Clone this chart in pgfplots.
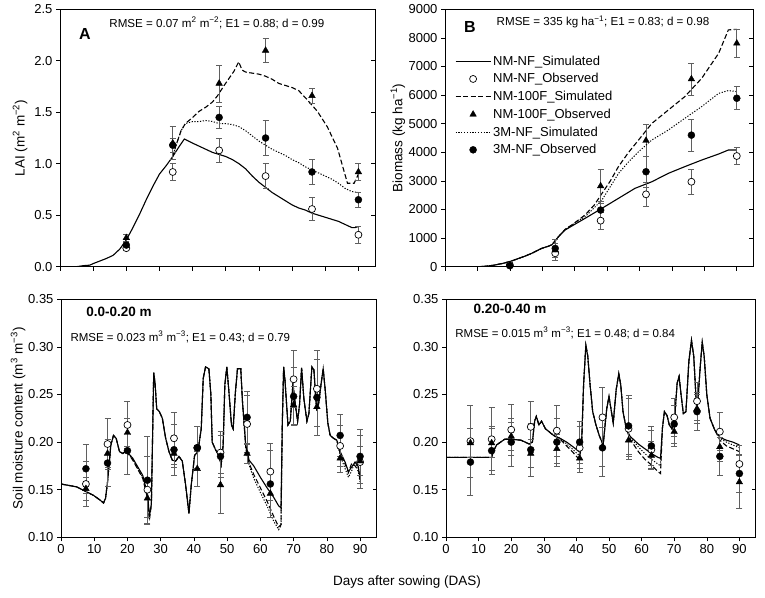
\documentclass[border=0pt]{standalone}
\usepackage{pgfplots}
\usepackage{pgfplotstable}
\pgfplotsset{compat=1.18}
\usepackage{fontspec}
\setmainfont{Liberation Sans}

\definecolor{errgray}{RGB}{95,95,95}

\pgfplotsset{
  panel/.style={scale only axis, anchor=south west, xmin=0, xmax=95,
    xtick={0,10,...,90}, xtick pos=left, ytick pos=left, tick align=outside,
    major tick length=4pt, every tick/.style={black, line width=0.6pt},
    axis line style={line width=0.8pt},
    tick label style={font=\fontsize{13}{15}\selectfont},
    label style={font=\fontsize{13.5}{16}\selectfont},
    /pgf/number format/assume math mode=true},
  rticks/.style={scale only axis, anchor=south west, xmin=0, xmax=95,
    axis x line=none, axis y line*=right, tick align=inside,
    major tick length=4pt, yticklabels={},
    every tick/.style={black, line width=0.6pt},
    axis line style={line width=0.8pt, -}},
  sims/.style={black, line width=1.1pt, no markers},
  dsh/.style={sims, dash pattern=on 5pt off 2.5pt},
  dtt/.style={sims, line width=1pt, dash pattern=on 1.2pt off 1.6pt},
  obs/.style={only marks, error bars/y dir=both, error bars/y explicit,
    error bars/error mark=|,
    error bars/error bar style={errgray, line width=0.75pt},
    error bars/error mark options={errgray, line width=0.75pt, mark size=3pt}},
  openc/.style={obs, mark=*, mark size=3.5pt, mark options={fill=white, draw=black, line width=0.7pt}},
  tri/.style={obs, mark=triangle*, mark size=3.8pt, mark options={fill=black, draw=black}},
  fillc/.style={obs, mark=*, mark size=3.5pt, mark options={fill=black, draw=black}},
}

% ---------- observations (day, value, error) ----------
\pgfplotstableread{
d y e
20 0.18 0.02
34 0.92 0.085
48 1.13 0.12
62 0.88 0.12
76 0.56 0.11
90 0.31 0.08
}\laiopen
\pgfplotstableread{
d y e
20 0.28 0.03
34 1.20 0.16
48 1.78 0.18
62 2.10 0.12
76 1.66 0.07
90 0.92 0.08
}\laitri
\pgfplotstableread{
d y e
20 0.21 0.03
34 1.18 0.07
48 1.45 0.11
62 1.25 0.17
76 0.92 0.12
90 0.65 0.07
}\laifill

\pgfplotstableread{
d y e
20 60 40
34 470 250
48 1610 300
62 2530 420
76 2970 440
90 3870 300
}\bmopen
\pgfplotstableread{
d y e
20 60 40
34 580 250
48 2820 600
62 4410 570
76 6560 560
90 7810 490
}\bmtri
\pgfplotstableread{
d y e
20 35 40
34 640 300
48 1980 300
62 3320 550
76 4600 560
90 5890 400
}\bmfill

\pgfplotstableread{
d y e
7.5 0.156 0.024
14 0.198 0.027
20 0.218 0.025
26 0.150 0.035
34 0.204 0.027
41 0.194 0.022
48 0.189 0.022
56 0.219 0.030
63 0.169 0.030
70 0.266 0.030
77 0.256 0.040
84 0.196 0.022
90 0.179 0.028
}\blopen
\pgfplotstableread{
d y e
7.5 0.151 0.012
14 0.188 0.015
20 0.210 0.015
26 0.141 0.020
34 0.188 0.015
41 0.172 0.018
48 0.155 0.030
56 0.188 0.010
63 0.146 0.025
70 0.239 0.020
77 0.237 0.020
84 0.183 0.015
90 0.180 0.015
}\bltri
\pgfplotstableread{
d y e
7.5 0.172 0.026
14 0.178 0.025
20 0.191 0.025
26 0.160 0.046
34 0.192 0.027
41 0.194 0.022
48 0.185 0.022
56 0.226 0.027
63 0.156 0.035
70 0.248 0.030
77 0.247 0.040
84 0.207 0.022
90 0.185 0.028
}\blfill

\pgfplotstableread{
d y e
7.5 0.201 0.038
14 0.203 0.033
20 0.213 0.027
26 0.216 0.027
34 0.212 0.027
41 0.194 0.022
48 0.226 0.032
56 0.214 0.032
63 0.192 0.020
70 0.226 0.020
77 0.243 0.020
84 0.211 0.020
90 0.177 0.020
}\bropen
\pgfplotstableread{
d y e
7.5 0.199 0.015
14 0.199 0.015
20 0.206 0.015
26 0.188 0.015
34 0.193 0.015
41 0.183 0.015
48 0.195 0.020
56 0.202 0.015
63 0.186 0.015
70 0.211 0.015
77 0.235 0.015
84 0.195 0.015
90 0.158 0.028
}\brtri
\pgfplotstableread{
d y e
7.5 0.179 0.035
14 0.191 0.025
20 0.200 0.025
26 0.192 0.028
34 0.200 0.025
41 0.200 0.022
48 0.194 0.030
56 0.217 0.032
63 0.196 0.020
70 0.219 0.020
77 0.232 0.020
84 0.185 0.020
90 0.167 0.020
}\brfill

% ---------- simulated soil moisture (day, NM-NF, NM-100F, 3M-NF) ----------
\pgfplotstableread{
d s ds dt
0 0.156 0.156 0.156
4.7 0.153 0.153 0.153
9.8 0.144 0.144 0.144
11.8 0.139 0.139 0.139
12.8 0.136 0.136 0.136
13.4 0.141 0.141 0.141
14.0 0.158 0.158 0.158
15.0 0.197 0.197 0.197
15.8 0.207 0.207 0.207
16.6 0.204 0.204 0.204
17.6 0.190 0.190 0.190
18.6 0.188 0.188 0.188
19.6 0.191 0.191 0.191
21.6 0.183 0.181 0.182
24.6 0.165 0.162 0.163
26.1 0.144 0.140 0.142
26.6 0.122 0.118 0.120
27.2 0.135 0.135 0.135
27.9 0.273 0.273 0.273
28.3 0.262 0.262 0.262
28.8 0.235 0.235 0.235
29.6 0.232 0.232 0.232
30.5 0.225 0.225 0.225
31.5 0.204 0.204 0.204
32.5 0.190 0.190 0.190
33.5 0.181 0.181 0.181
34.5 0.180 0.180 0.180
35.5 0.185 0.185 0.185
36.5 0.180 0.180 0.180
37.5 0.155 0.155 0.155
38.5 0.125 0.125 0.125
39.2 0.155 0.155 0.155
40.2 0.186 0.186 0.186
41.2 0.190 0.190 0.190
42.2 0.214 0.214 0.214
42.8 0.267 0.267 0.267
43.5 0.279 0.279 0.279
44.5 0.277 0.277 0.277
45.1 0.250 0.250 0.250
45.5 0.200 0.200 0.200
46.5 0.192 0.192 0.192
47.5 0.186 0.186 0.186
48.2 0.176 0.176 0.176
48.8 0.197 0.197 0.197
49.3 0.260 0.260 0.260
49.9 0.279 0.279 0.279
50.6 0.250 0.250 0.250
51.3 0.218 0.218 0.218
51.8 0.214 0.214 0.214
52.5 0.253 0.253 0.253
53.1 0.277 0.277 0.277
54.1 0.277 0.277 0.277
54.6 0.243 0.243 0.243
55.6 0.197 0.195 0.193
56.6 0.181 0.178 0.176
58 0.175 0.166 0.162
60 0.163 0.152 0.147
62 0.152 0.138 0.133
64 0.142 0.122 0.117
65.5 0.133 0.111 0.108
66.2 0.131 0.113 0.112
66.6 0.220 0.220 0.220
67.0 0.279 0.279 0.279
67.4 0.265 0.265 0.265
68.3 0.218 0.218 0.218
69.0 0.222 0.222 0.222
69.8 0.262 0.262 0.262
70.3 0.245 0.245 0.245
71.2 0.222 0.222 0.222
71.8 0.240 0.240 0.240
72.4 0.278 0.278 0.278
73.1 0.245 0.245 0.245
74.0 0.222 0.222 0.222
74.6 0.230 0.230 0.230
75.5 0.279 0.279 0.279
76.1 0.276 0.276 0.276
76.9 0.235 0.235 0.235
77.5 0.240 0.240 0.240
78.3 0.262 0.262 0.262
78.9 0.277 0.277 0.277
79.5 0.255 0.255 0.255
80.3 0.220 0.220 0.220
81.0 0.207 0.207 0.207
82.0 0.204 0.204 0.204
83.0 0.202 0.202 0.202
84.0 0.190 0.188 0.186
85.5 0.179 0.177 0.172
86.5 0.169 0.168 0.163
87.5 0.174 0.178 0.170
88.5 0.179 0.175 0.180
89.5 0.174 0.170 0.168
90 0.160 0.165 0.158
}\blsim

\pgfplotstableread{
d s ds dt
0 0.184 0.184 0.184
14 0.184 0.184 0.184
14.5 0.190 0.190 0.190
15.5 0.197 0.197 0.197
18 0.203 0.203 0.203
20 0.203 0.203 0.203
23 0.202 0.202 0.202
25.5 0.198 0.198 0.198
26.5 0.200 0.200 0.200
27.2 0.222 0.222 0.222
27.7 0.227 0.227 0.227
28.5 0.218 0.218 0.218
29.3 0.222 0.222 0.222
30.5 0.214 0.214 0.214
33 0.207 0.207 0.207
35 0.204 0.203 0.204
37 0.200 0.196 0.198
39 0.195 0.189 0.192
40.8 0.190 0.182 0.186
41.6 0.200 0.195 0.197
42.2 0.260 0.260 0.260
42.9 0.302 0.302 0.302
43.5 0.290 0.290 0.290
44.2 0.260 0.260 0.260
45 0.232 0.232 0.232
46 0.218 0.218 0.218
47 0.207 0.207 0.207
48.2 0.197 0.197 0.197
49.3 0.235 0.235 0.235
50 0.248 0.248 0.248
50.6 0.235 0.235 0.235
51.3 0.220 0.220 0.220
52.2 0.255 0.255 0.255
53 0.272 0.272 0.272
53.6 0.260 0.260 0.260
54.3 0.232 0.232 0.232
55.3 0.214 0.214 0.214
56.5 0.206 0.203 0.205
59 0.198 0.190 0.195
61 0.193 0.182 0.188
63 0.188 0.176 0.182
65 0.184 0.169 0.177
65.8 0.183 0.167 0.175
66.4 0.215 0.215 0.215
67 0.232 0.232 0.232
67.8 0.228 0.228 0.228
68.5 0.218 0.218 0.218
69.3 0.214 0.214 0.214
70.2 0.228 0.228 0.228
70.9 0.262 0.262 0.262
71.5 0.269 0.269 0.269
72.1 0.250 0.250 0.250
72.8 0.230 0.230 0.230
73.6 0.232 0.232 0.232
74.5 0.285 0.285 0.285
75.3 0.307 0.307 0.307
76 0.290 0.290 0.290
76.8 0.240 0.240 0.240
77.3 0.245 0.245 0.245
78 0.280 0.280 0.280
78.6 0.305 0.305 0.305
79.2 0.290 0.290 0.290
80 0.250 0.250 0.250
81 0.225 0.225 0.225
82.4 0.213 0.213 0.213
84 0.205 0.202 0.204
86 0.202 0.196 0.200
88 0.200 0.193 0.197
90 0.197 0.190 0.194
}\brsim

\begin{document}
\begin{tikzpicture}
\useasboundingbox (0,0) rectangle (765pt,597pt);

% ===== A: LAI =====
\begin{axis}[panel, at={(60pt,330.3pt)}, width=315pt, height=257.4pt,
  ymin=0, ymax=2.5, ytick={0,0.5,1,1.5,2,2.5}, xticklabels={},
  yticklabel style={/pgf/number format/fixed, /pgf/number format/fixed zerofill, /pgf/number format/precision=1},
  ylabel={LAI (m\textsuperscript{2} m\textsuperscript{−2})},
  ylabel style={at={(axis description cs:-0.127,0.5)}, anchor=center}]
\addplot[sims] coordinates {(0,0) (5,0) (7,0.01) (9,0.015) (10,0.03) (12,0.055) (14,0.08) (16,0.11) (18,0.17) (20,0.26) (22,0.38) (24,0.51) (26,0.65) (28,0.78) (30,0.90) (32,0.98) (34,1.07) (36,1.17) (37.5,1.24) (40,1.20) (42,1.17) (44,1.14) (46,1.11) (48,1.09) (50,1.07) (52,1.04) (54,1.00) (56,0.95) (58,0.88) (60,0.82) (62,0.77) (64,0.72) (66,0.68) (68,0.64) (70,0.60) (72,0.57) (74,0.55) (76,0.52) (78,0.50) (80,0.48) (82,0.46) (84,0.44) (86,0.41) (88,0.38) (89,0.38) (90,0.39)};
\addplot[dsh] coordinates {(34,1.07) (35,1.18) (36.5,1.32) (37.8,1.39) (40,1.45) (42,1.51) (44,1.55) (46,1.60) (47.5,1.66) (49.5,1.76) (51,1.83) (52.5,1.90) (53.9,1.99) (54.9,1.91) (56,1.89) (58,1.88) (60,1.87) (62,1.85) (64,1.82) (66,1.78) (68,1.76) (70,1.74) (72,1.71) (74.6,1.62) (77.6,1.51) (80.6,1.36) (83.7,1.15) (86.7,0.81) (88.7,0.81) (90,0.90)};
\addplot[dtt] coordinates {(34,1.07) (35,1.18) (36.5,1.32) (37.8,1.39) (40,1.41) (42,1.41) (44,1.42) (46,1.41) (48,1.39) (50,1.39) (52,1.38) (54,1.36) (56,1.32) (58,1.27) (60,1.22) (62,1.18) (64,1.14) (66,1.11) (68,1.08) (70,1.04) (72,1.01) (74,0.97) (76,0.94) (78,0.91) (80,0.88) (82,0.85) (84,0.81) (86,0.76) (88,0.73) (90,0.72)};
\addplot[openc] table[x=d, y=y, y error=e] {\laiopen};
\addplot[tri] table[x=d, y=y, y error=e] {\laitri};
\addplot[fillc] table[x=d, y=y, y error=e] {\laifill};
\node[font=\fontsize{11.6}{14}\selectfont] at (rel axis cs:0.498,0.947) {RMSE = 0.07 m\textsuperscript{2} m\textsuperscript{−2}; E1 = 0.88; d = 0.99};
\node[font=\bfseries\fontsize{16}{19}\selectfont] at (rel axis cs:0.079,0.904) {A};
\end{axis}
\begin{axis}[rticks, at={(60pt,330.3pt)}, width=315pt, height=257.4pt, ymin=0, ymax=2.5, ytick={0,0.5,1,1.5,2,2.5}]
\end{axis}

% ===== B: Biomass =====
\begin{axis}[panel, at={(445pt,330.3pt)}, width=308pt, height=257.4pt,
  ymin=0, ymax=9000, ytick={0,1000,...,9000}, xticklabels={}, scaled y ticks=false,
  yticklabel style={/pgf/number format/1000 sep={}},
  ylabel={Biomass (kg ha\textsuperscript{−1})},
  ylabel style={at={(axis description cs:-0.153,0.5)}, anchor=center},
  legend style={at={(0.032,0.828)}, anchor=north west, draw=none, fill=none,
    font=\fontsize{13}{15}\selectfont, row sep=2.8pt, inner sep=0pt},
  legend cell align=left,
  legend image code/.code={\draw[mark repeat=2, mark phase=2, #1] plot coordinates {(0pt,0pt) (17.5pt,0pt) (35pt,0pt)};}]
\addplot[sims] coordinates {(0,0) (10,0) (12,10) (15,50) (18,120) (20,180) (22,260) (24.7,370) (27,480) (29.8,640) (32,720) (33,770) (35,1050) (37,1280) (40,1480) (43.2,1690) (48.4,2040) (53.5,2390) (58.6,2740) (63.8,2970) (68.9,3265) (74,3500) (79.2,3730) (84.4,3940) (87.4,4080) (90,4080)};
\addlegendentry{NM-NF\_Simulated}
\addplot[openc] table[x=d, y=y, y error=e] {\bmopen};
\addlegendentry{NM-NF\_Observed}
\addplot[dsh] coordinates {(0,0) (10,0) (12,10) (15,50) (18,120) (20,180) (22,260) (24.7,370) (27,480) (29.8,640) (32,720) (33,770) (35,1050) (37,1300) (39.1,1460) (41,1620) (43.2,1810) (46,2150) (48.4,2560) (51,3000) (53.5,3500) (56.5,3980) (59.7,4430) (63.8,5010) (68.9,5480) (74,5950) (79.2,6590) (84.4,7460) (87.4,8280) (90,8300)};
\addlegendentry{NM-100F\_Simulated}
\addplot[tri] table[x=d, y=y, y error=e] {\bmtri};
\addlegendentry{NM-100F\_Observed}
\addplot[dtt] coordinates {(0,0) (10,0) (12,10) (15,50) (18,120) (20,180) (22,260) (24.7,370) (27,480) (29.8,640) (32,720) (33,770) (35,1050) (37,1300) (40,1520) (43.2,1750) (45.5,2000) (48.4,2330) (51,2800) (53.5,3260) (56.5,3650) (59.7,4020) (63.8,4430) (68.9,4780) (74,5190) (79.2,5600) (84.4,6060) (87.4,6160) (90,6120)};
\addlegendentry{3M-NF\_Simulated}
\addplot[fillc] table[x=d, y=y, y error=e] {\bmfill};
\addlegendentry{3M-NF\_Observed}
\node[font=\fontsize{11.6}{14}\selectfont] at (rel axis cs:0.513,0.95) {RMSE = 335 kg ha\textsuperscript{−1}; E1 = 0.83; d = 0.98};
\node[font=\bfseries\fontsize{16}{19}\selectfont] at (rel axis cs:0.081,0.931) {B};
\end{axis}
\begin{axis}[rticks, at={(445pt,330.3pt)}, width=308pt, height=257.4pt, ymin=0, ymax=9000, ytick={0,1000,...,9000}]
\end{axis}

% ===== 0.0-0.20 m =====
\begin{axis}[panel, at={(61pt,59.7pt)}, width=315.7pt, height=238pt,
  ymin=0.10, ymax=0.35, ytick={0.10,0.15,0.20,0.25,0.30,0.35},
  yticklabel style={/pgf/number format/fixed, /pgf/number format/fixed zerofill, /pgf/number format/precision=2},
  ylabel={Soil moisture content (m\textsuperscript{3} m\textsuperscript{−3})},
  ylabel style={at={(axis description cs:-0.136,0.5)}, anchor=center}]
\addplot[sims] table[x=d, y=s] {\blsim};
\addplot[dsh] table[x=d, y=ds] {\blsim};
\addplot[dtt] table[x=d, y=dt] {\blsim};
\addplot[openc] table[x=d, y=y, y error=e] {\blopen};
\addplot[tri] table[x=d, y=y, y error=e] {\bltri};
\addplot[fillc] table[x=d, y=y, y error=e] {\blfill};
\node[font=\bfseries\fontsize{13.5}{16}\selectfont] at (rel axis cs:0.184,0.947) {0.0-0.20 m};
\node[font=\fontsize{11.5}{14}\selectfont, anchor=west] at (rel axis cs:0.019,0.842) {RMSE = 0.023 m\textsuperscript{3} m\textsuperscript{−3}; E1 = 0.43; d = 0.79};
\end{axis}
\begin{axis}[rticks, at={(61pt,59.7pt)}, width=315.7pt, height=238pt, ymin=0.10, ymax=0.35, ytick={0.10,0.15,0.20,0.25,0.30,0.35}]
\end{axis}

% ===== 0.20-0.40 m =====
\begin{axis}[panel, at={(446pt,59.7pt)}, width=309.7pt, height=238pt,
  ymin=0.10, ymax=0.35, ytick={0.10,0.15,0.20,0.25,0.30,0.35},
  yticklabel style={/pgf/number format/fixed, /pgf/number format/fixed zerofill, /pgf/number format/precision=2}]
\addplot[sims] table[x=d, y=s] {\brsim};
\addplot[dsh] table[x=d, y=ds] {\brsim};
\addplot[dtt] table[x=d, y=dt] {\brsim};
\addplot[openc] table[x=d, y=y, y error=e] {\bropen};
\addplot[tri] table[x=d, y=y, y error=e] {\brtri};
\addplot[fillc] table[x=d, y=y, y error=e] {\brfill};
\node[font=\bfseries\fontsize{13.5}{16}\selectfont] at (rel axis cs:0.207,0.959) {0.20-0.40 m};
\node[font=\fontsize{11.5}{14}\selectfont, anchor=west] at (rel axis cs:0.019,0.859) {RMSE = 0.015 m\textsuperscript{3} m\textsuperscript{−3}; E1 = 0.48; d = 0.84};
\end{axis}
\begin{axis}[rticks, at={(446pt,59.7pt)}, width=309.7pt, height=238pt, ymin=0.10, ymax=0.35, ytick={0.10,0.15,0.20,0.25,0.30,0.35}]
\end{axis}

\node[font=\fontsize{13.5}{16}\selectfont] at (407pt,15pt) {Days after sowing (DAS)};
\end{tikzpicture}
\end{document}
